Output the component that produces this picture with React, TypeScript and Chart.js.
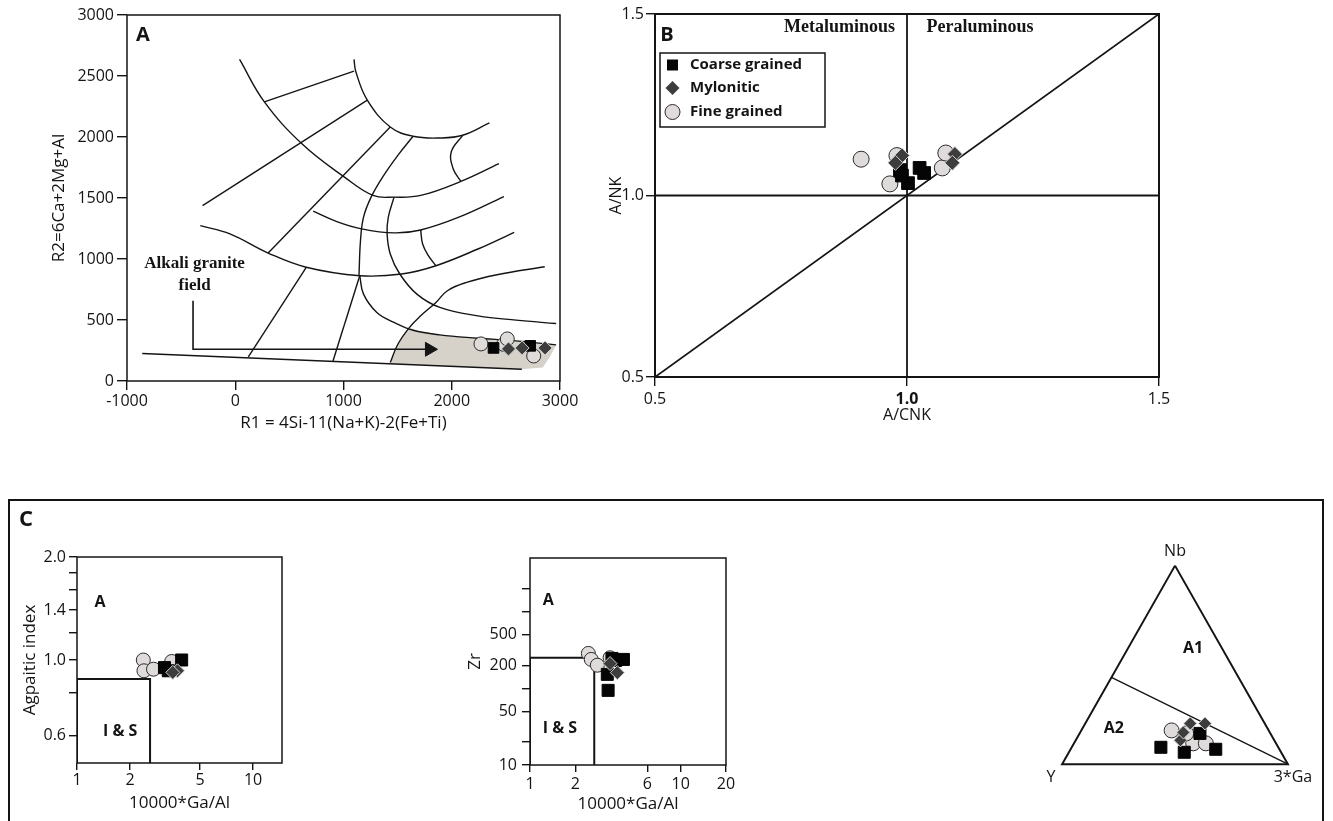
import React, { useEffect, useRef } from "react";
import { Chart, registerables } from "chart.js";

Chart.register(...registerables);

const SANS = "'Open Sans', 'DejaVu Sans', Arial, sans-serif";
const SERIF = "'Liberation Serif', 'DejaVu Serif', 'Times New Roman', serif";
const INK = "#141414";

// ================= Panel A : R1 - R2 diagram =================
const aXTicks = [-1000, 0, 1000, 2000, 3000];
const aYTicks = [0, 500, 1000, 1500, 2000, 2500, 3000];
const aFineR1 = [2270, 2480, 2513, 2757];
const aFineR2 = [304, 300, 345, 205];
const aCoarseR1 = [2386, 2725];
const aCoarseR2 = [271, 288];
const aMyloR1 = [2524, 2650, 2862];
const aMyloR2 = [263, 271, 271];

// field boundaries, [R1, R2] pairs
const aArcOuter = [[40, 2636], [269, 2288], [621, 1940], [1009, 1671], [1273, 1521], [1467, 1507], [1713, 1521], [2084, 1636], [2436, 1781]];
const aArcUpper = [[1097, 2636], [1114, 2535], [1220, 2302], [1432, 2082], [1643, 2006], [1890, 1992], [2101, 2014], [2348, 2115]];
const aTopBar = [[269, 2288], [1097, 2540]];
const aDiag = [[-302, 1438], [1220, 2302]];
const aLoop1 = [[2101, 2014], [1995, 1877], [2013, 1740], [2084, 1636]];
const aArcMid = [[-323, 1274], [-49, 1206], [304, 1049], [656, 932], [1150, 863], [1537, 877], [1854, 945], [2242, 1082], [2577, 1219]];
const aArcInner = [[720, 1392], [938, 1307], [1167, 1247], [1467, 1214], [1713, 1238], [2066, 1343], [2482, 1512]];
const aLoop2 = [[1713, 1238], [1731, 1123], [1784, 1027], [1854, 945]];
const aSpoke1 = [[1432, 2082], [304, 1049]];
const aSpoke2 = [[656, 932], [121, 197]];
const aSpoke3 = [[1643, 2006], [1502, 1850], [1361, 1671], [1255, 1507], [1185, 1343], [1157, 1151], [1143, 863]];
const aSpoke4 = [[1150, 863], [903, 164]];
const aBend1 = [[1467, 1507], [1414, 1343], [1403, 1206], [1432, 1041], [1520, 877], [1678, 712], [1890, 603], [2242, 534], [2594, 499], [2964, 471]];
const aBend2 = [[1150, 863], [1185, 712], [1308, 562], [1467, 480], [1643, 416], [1890, 378], [2242, 351], [2594, 329], [2964, 296]];
const aBend3 = [[2859, 937], [2418, 871], [2136, 808], [1960, 740], [1854, 644], [1713, 534], [1608, 438], [1502, 301], [1432, 151]];
const aBase = [[-859, 225], [2647, 96]];
const aArrow = [[-390, 658], [-390, 260], [1790, 260]];
const aArrowHead = [[1794, 260]];
const aAlkaliField = [[1432, 142], [1502, 301], [1608, 438], [1713, 403], [1890, 378], [2242, 351], [2594, 329], [2964, 296], [2912, 206], [2841, 110], [2647, 96], [1432, 142]];

// ================= Panel B : A/CNK - A/NK =================
const bTicks = [0.5, 1.0, 1.5];
const bFineACNK = [0.909, 0.966, 0.98, 1.07, 1.077];
const bFineANK = [1.10, 1.032, 1.11, 1.076, 1.117];
const bCoarseACNK = [0.986, 1.002, 1.025, 1.034, 0.99];
const bCoarseANK = [1.07, 1.034, 1.076, 1.062, 1.055];
const bMyloACNK = [0.99, 0.977, 1.095, 1.09];
const bMyloANK = [1.11, 1.09, 1.114, 1.09];
const bVertical = [[1, 0.5], [1, 1.5]];
const bHorizontal = [[0.5, 1], [1.5, 1]];
const bDiagonal = [[0.5, 0.5], [1.5, 1.5]];
const seriesNames = ["Coarse grained", "Mylonitic", "Fine grained"];

// ================= Panel C1 : Ga/Al - Agpaitic index =================
const c1XTicks = [1, 2, 5, 10];
const c1YTicks = [0.6, 0.8, 1.0, 1.2, 1.4, 1.6, 1.8, 2.0];
const c1YLabels = [0.6, 1.0, 1.4, 2.0];
const c1FineGa = [2.38, 2.4, 2.72, 3.45];
const c1FineAI = [1.0, 0.93, 0.94, 0.99];
const c1CoarseGa = [3.14, 3.93, 3.3];
const c1CoarseAI = [0.95, 1.0, 0.93];
const c1MyloGa = [3.72, 3.5];
const c1MyloAI = [0.93, 0.92];
const c1ISBox = [[1, 0.5], [1, 0.88], [2.6, 0.88], [2.6, 0.5]];

// ================= Panel C2 : Ga/Al - Zr =================
const c2XTicks = [1, 2, 6, 10, 20];
const c2YTicks = [10, 20, 50, 100, 200, 500, 1000, 2000];
const c2YLabels = [10, 50, 200, 500];
const c2FineGa = [2.44, 2.55, 2.8, 3.4];
const c2FineZr = [285, 238, 200, 250];
const c2CoarseGa = [3.5, 4.17, 3.26, 3.3, 3.7];
const c2CoarseZr = [245, 238, 152, 94, 230];
const c2MyloGa = [3.8, 3.4];
const c2MyloZr = [160, 210];
const c2ISBox = [[1, 10], [1, 250], [2.67, 250], [2.67, 10]];

// ================= Panel C3 : Nb - Y - 3*Ga ternary =================
const tFineNb = [0.17, 0.105, 0.105, 0.155];
const tFineY = [0.43, 0.367, 0.311, 0.373];
const tFineGa = [0.4, 0.528, 0.584, 0.472];
const tCoarseNb = [0.085, 0.06, 0.075, 0.155];
const tCoarseY = [0.52, 0.429, 0.282, 0.312];
const tCoarseGa = [0.395, 0.511, 0.643, 0.533];
const tMyloNb = [0.12, 0.205, 0.205, 0.16];
const tMyloY = [0.416, 0.33, 0.265, 0.383];
const tMyloGa = [0.464, 0.465, 0.53, 0.457];
const tOutline = [[1, 0, 0], [0, 1, 0], [0, 0, 1], [1, 0, 0]]; // [Nb, Y, Ga]
const tDivider = [[0.437, 0.563, 0], [0, 0, 1]];

// ================= helpers =================
type P = { x: number; y: number };
const zip = (xs: number[], ys: number[]): P[] => xs.map((x, i) => ({ x, y: ys[i] }));
const pairs = (a: number[][]): P[] => a.map(([x, y]) => ({ x, y }));
const SQ3 = Math.sqrt(3) / 2;
const tern = (nb: number, y: number, ga: number): P => {
  const s = nb + y + ga;
  return { x: (ga + nb / 2) / s, y: (nb * SQ3) / s };
};
const ternSeries = (nb: number[], y: number[], ga: number[]): P[] => nb.map((v, i) => tern(v, y[i], ga[i]));

const FINE_FILL = "#dfdbdb";
const fine = (data: P[], r: number) => ({ label: seriesNames[2], data, pointStyle: "circle", pointRadius: r, pointHoverRadius: r, backgroundColor: FINE_FILL, borderColor: "#2b2b2b", borderWidth: 1, order: 3 });
const coarse = (data: P[], r: number) => ({ label: seriesNames[0], data, pointStyle: "rect", pointRadius: r, pointHoverRadius: r, backgroundColor: "#050505", borderColor: "#050505", borderWidth: 1, order: 2 });
const mylo = (data: P[], r: number) => ({ label: seriesNames[1], data, pointStyle: "rectRot", pointRadius: r, pointHoverRadius: r, backgroundColor: "#3d3d3d", borderColor: "#cfcfcf", borderWidth: 1, order: 1 });
const line = (data: P[], extra: any = {}) => ({ data, showLine: true, pointRadius: 0, pointHoverRadius: 0, borderColor: INK, borderWidth: 1.4, backgroundColor: "transparent", fill: false, tension: 0, order: 10, ...extra });

type Lbl = { text: string; x: number; y: number; font: string; abs?: boolean; dx?: number; dy?: number; align?: CanvasTextAlign };
const labelPlugin = (items: Lbl[]) => ({
  id: "labels",
  afterDatasetsDraw(chart: any) {
    const { ctx, scales } = chart;
    ctx.save();
    ctx.fillStyle = INK;
    ctx.textBaseline = "middle";
    for (const l of items) {
      let px = l.x;
      let py = l.y;
      if (!l.abs) {
        px = scales.x.getPixelForValue(l.x);
        py = scales.y.getPixelForValue(l.y);
      }
      ctx.font = l.font;
      ctx.textAlign = l.align || "center";
      ctx.fillText(l.text, px + (l.dx || 0), py + (l.dy || 0));
    }
    ctx.restore();
  },
});

const framePlugin = (lw: number) => ({
  id: "frame",
  beforeDatasetsDraw(chart: any) {
    const { ctx, chartArea: a } = chart;
    ctx.save();
    ctx.strokeStyle = INK;
    ctx.lineWidth = lw;
    ctx.strokeRect(a.left, a.top, a.right - a.left, a.bottom - a.top);
    ctx.restore();
  },
});

const legendPlugin = {
  id: "boxLegend",
  afterDatasetsDraw(chart: any) {
    const { ctx, chartArea: a } = chart;
    const left = a.left + 5;
    const top = a.top + 39;
    ctx.save();
    ctx.strokeStyle = INK;
    ctx.lineWidth = 1.5;
    ctx.strokeRect(left, top, 165, 74);
    const rows = [12, 35, 59];
    seriesNames.forEach((name, i) => {
      const cx = left + 12.5;
      const cy = top + rows[i];
      ctx.beginPath();
      if (i === 0) {
        ctx.fillStyle = "#050505";
        ctx.rect(cx - 5.5, cy - 5.5, 11, 11);
        ctx.fill();
      } else if (i === 1) {
        ctx.fillStyle = "#3d3d3d";
        ctx.moveTo(cx, cy - 7);
        ctx.lineTo(cx + 7, cy);
        ctx.lineTo(cx, cy + 7);
        ctx.lineTo(cx - 7, cy);
        ctx.closePath();
        ctx.fill();
      } else {
        ctx.fillStyle = FINE_FILL;
        ctx.strokeStyle = "#2b2b2b";
        ctx.lineWidth = 1;
        ctx.arc(cx, cy, 7.5, 0, Math.PI * 2);
        ctx.fill();
        ctx.stroke();
      }
      ctx.fillStyle = INK;
      ctx.font = `bold 15px ${SANS}`;
      ctx.textAlign = "left";
      ctx.textBaseline = "middle";
      ctx.fillText(name, left + 30, cy);
    });
    ctx.restore();
  },
};

type AxisOpts = {
  type?: string; min: number; max: number; ticks: number[]; label: (v: number) => string;
  title: string; titleSize: number; titlePad: number; tickSize: number; tickLen: number; tickPad: number;
  fit: number; horizontal: boolean; weight?: (v: number) => string;
};
const axis = (o: AxisOpts) => ({
  type: o.type || "linear",
  min: o.min,
  max: o.max,
  afterBuildTicks: (s: any) => { s.ticks = o.ticks.map((v) => ({ value: v })); },
  afterFit: (s: any) => { if (o.horizontal) s.height = o.fit; else s.width = o.fit; },
  ticks: {
    autoSkip: false, maxRotation: 0, minRotation: 0, padding: o.tickPad, color: INK,
    font: (c: any) => ({ family: SANS, size: o.tickSize, weight: o.weight && c.tick ? o.weight(c.tick.value) : "normal" }),
    callback: (v: any) => o.label(Number(v)),
  },
  grid: { display: true, drawOnChartArea: false, drawTicks: o.tickLen > 0, tickLength: o.tickLen, color: INK, lineWidth: 1.4 },
  border: { display: false },
  title: {
    display: true, text: o.title, color: INK, font: { family: SANS, size: o.titleSize },
    padding: o.horizontal ? { top: 0, bottom: o.titlePad } : { top: o.titlePad, bottom: 0 },
  },
});

const baseOptions = (padding: any, scales: any) => ({
  animation: false, responsive: false, maintainAspectRatio: false, events: [],
  layout: { padding },
  plugins: { legend: { display: false }, tooltip: { enabled: false } },
  scales,
});

const pick = (list: number[], fmt: (v: number) => string) => (v: number) =>
  list.some((t) => Math.abs(t - v) < 1e-9) ? fmt(v) : "";

// ================= chart configs =================
const makeA = () => ({
  type: "scatter",
  data: {
    datasets: [
      line(pairs(aAlkaliField), { fill: "shape", backgroundColor: "#d6d2ca", borderWidth: 0, borderColor: "transparent", order: 20 }),
      line(pairs(aArcOuter), { tension: 0.4 }),
      line(pairs(aArcUpper), { tension: 0.4 }),
      line(pairs(aTopBar)),
      line(pairs(aDiag)),
      line(pairs(aLoop1), { tension: 0.4 }),
      line(pairs(aArcMid), { tension: 0.4 }),
      line(pairs(aArcInner), { tension: 0.4 }),
      line(pairs(aLoop2), { tension: 0.4 }),
      line(pairs(aSpoke1)),
      line(pairs(aSpoke2)),
      line(pairs(aSpoke3), { tension: 0.4 }),
      line(pairs(aSpoke4)),
      line(pairs(aBend1), { tension: 0.4 }),
      line(pairs(aBend2), { tension: 0.4 }),
      line(pairs(aBend3), { tension: 0.4 }),
      line(pairs(aBase)),
      line(pairs(aArrow), { borderWidth: 1.6 }),
      { data: pairs(aArrowHead), pointStyle: "triangle", pointRotation: 90, pointRadius: 8, pointHoverRadius: 8, backgroundColor: INK, borderColor: INK, borderWidth: 1, order: 9 },
      fine(zip(aFineR1, aFineR2), 7),
      coarse(zip(aCoarseR1, aCoarseR2), 7.5),
      mylo(zip(aMyloR1, aMyloR2), 7),
    ],
  },
  options: baseOptions({ top: 15, right: 40, left: 0, bottom: 0 }, {
    x: axis({ min: -1000, max: 3000, ticks: aXTicks, label: (v) => String(v), title: "R1 = 4Si-11(Na+K)-2(Fe+Ti)", titleSize: 17, titlePad: 7, tickSize: 16, tickLen: 9, tickPad: 2, fit: 59, horizontal: true }),
    y: axis({ min: 0, max: 3000, ticks: aYTicks, label: (v) => String(v), title: "R2=6Ca+2Mg+Al", titleSize: 17, titlePad: 49, tickSize: 16, tickLen: 10, tickPad: 3, fit: 127, horizontal: false }),
  }),
  plugins: [
    framePlugin(1.5),
    labelPlugin([
      { text: "A", x: 143, y: 35, abs: true, font: `bold 20px ${SANS}` },
      { text: "Alkali granite", x: -376, y: 966, font: `bold 17px ${SERIF}` },
      { text: "field", x: -376, y: 784, font: `bold 17px ${SERIF}` },
    ]),
  ],
});

const makeB = () => ({
  type: "scatter",
  data: {
    datasets: [
      line(pairs(bVertical), { borderWidth: 1.8 }),
      line(pairs(bHorizontal), { borderWidth: 1.8 }),
      line(pairs(bDiagonal), { borderWidth: 1.8 }),
      fine(zip(bFineACNK, bFineANK), 8),
      coarse(zip(bCoarseACNK, bCoarseANK), 9),
      mylo(zip(bMyloACNK, bMyloANK), 7.5),
    ],
  },
  options: baseOptions({ top: 14, right: 41, left: 0, bottom: 0 }, {
    x: axis({ min: 0.5, max: 1.5, ticks: bTicks, label: (v) => v.toFixed(1), title: "A/CNK", titleSize: 16, titlePad: 15, tickSize: 16, tickLen: 9, tickPad: 4, fit: 63, horizontal: true, weight: (v) => (Math.abs(v - 1) < 1e-9 ? "bold" : "normal") }),
    y: axis({ min: 0.5, max: 1.5, ticks: bTicks, label: (v) => v.toFixed(1), title: "A/NK", titleSize: 16, titlePad: 7, tickSize: 16, tickLen: 9, tickPad: 2, fit: 55, horizontal: false }),
  }),
  plugins: [
    framePlugin(2),
    legendPlugin,
    labelPlugin([
      { text: "B", x: 67, y: 35, abs: true, font: `bold 20px ${SANS}` },
      { text: "Metaluminous", x: 0.866, y: 1.464, font: `bold 18px ${SERIF}` },
      { text: "Peraluminous", x: 1.145, y: 1.464, font: `bold 18px ${SERIF}` },
    ]),
  ],
});

const makeC1 = () => ({
  type: "scatter",
  data: {
    datasets: [
      line(pairs(c1ISBox), { borderWidth: 2 }),
      fine(zip(c1FineGa, c1FineAI), 7),
      coarse(zip(c1CoarseGa, c1CoarseAI), 8.5),
      mylo(zip(c1MyloGa, c1MyloAI), 7),
    ],
  },
  options: baseOptions({ top: 55, right: 28, left: 0, bottom: 0 }, {
    x: axis({ type: "logarithmic", min: 1, max: 14.6, ticks: c1XTicks, label: (v) => String(v), title: "10000*Ga/Al", titleSize: 17, titlePad: 8, tickSize: 16, tickLen: 7, tickPad: 1, fit: 58, horizontal: true }),
    y: axis({ type: "logarithmic", min: 0.5, max: 2.0, ticks: c1YTicks, label: pick(c1YLabels, (v) => v.toFixed(1)), title: "Agpaitic index", titleSize: 17, titlePad: 10, tickSize: 16, tickLen: 8, tickPad: 3, fit: 67, horizontal: false }),
  }),
  plugins: [
    framePlugin(1.5),
    labelPlugin([
      { text: "C", x: 16, y: 18, abs: true, font: `bold 22px ${SANS}` },
      { text: "A", x: 1.35, y: 1.47, font: `bold 16px ${SANS}` },
      { text: "I & S", x: 1.76, y: 0.62, font: `bold 16px ${SANS}` },
    ]),
  ],
});

const makeC2 = () => ({
  type: "scatter",
  data: {
    datasets: [
      line(pairs(c2ISBox), { borderWidth: 2 }),
      fine(zip(c2FineGa, c2FineZr), 7),
      coarse(zip(c2CoarseGa, c2CoarseZr), 8.5),
      mylo(zip(c2MyloGa, c2MyloZr), 7),
    ],
  },
  options: baseOptions({ top: 56, right: 34, left: 0, bottom: 0 }, {
    x: axis({ type: "logarithmic", min: 1, max: 20, ticks: c2XTicks, label: (v) => String(v), title: "10000*Ga/Al", titleSize: 17, titlePad: 7, tickSize: 16, tickLen: 7, tickPad: 3, fit: 56, horizontal: true }),
    y: axis({ type: "logarithmic", min: 10, max: 5000, ticks: c2YTicks, label: pick(c2YLabels, (v) => String(v)), title: "Zr", titleSize: 17, titlePad: 5, tickSize: 16, tickLen: 8, tickPad: 5, fit: 70, horizontal: false }),
  }),
  plugins: [
    framePlugin(1.5),
    labelPlugin([
      { text: "A", x: 1.32, y: 1380, font: `bold 16px ${SANS}` },
      { text: "I & S", x: 1.58, y: 30, font: `bold 16px ${SANS}` },
    ]),
  ],
});

const makeC3 = () => {
  const nb = tern(1, 0, 0);
  const yv = tern(0, 1, 0);
  const ga = tern(0, 0, 1);
  const a1 = tern(0.585, 0.1275, 0.2875);
  const a2 = tern(0.18, 0.681, 0.139);
  return {
    type: "scatter",
    data: {
      datasets: [
        line(tOutline.map(([a, b, c]) => tern(a, b, c)), { borderWidth: 2 }),
        line(tDivider.map(([a, b, c]) => tern(a, b, c)), { borderWidth: 1.3 }),
        fine(ternSeries(tFineNb, tFineY, tFineGa), 7.5),
        coarse(ternSeries(tCoarseNb, tCoarseY, tCoarseGa), 8.5),
        mylo(ternSeries(tMyloNb, tMyloY, tMyloGa), 6.5),
      ],
    },
    options: baseOptions({ top: 7.6, right: 4.9, left: 7.9, bottom: 12.9 }, {
      x: { type: "linear", min: -0.1, max: 1.1, display: false },
      y: { type: "linear", min: -0.1, max: 0.98, display: false },
    }),
    plugins: [
      labelPlugin([
        { text: "Nb", x: nb.x, y: nb.y, dy: -14, font: `16px ${SANS}` },
        { text: "Y", x: yv.x, y: yv.y, dx: -11, dy: 13, font: `16px ${SANS}` },
        { text: "3*Ga", x: ga.x, y: ga.y, dx: 5, dy: 13, font: `16px ${SANS}` },
        { text: "A1", x: a1.x, y: a1.y, font: `bold 16px ${SANS}` },
        { text: "A2", x: a2.x, y: a2.y, font: `bold 16px ${SANS}` },
      ]),
    ],
  };
};

function ChartCanvas({ make, left, top, width, height }: { make: () => any; left: number; top: number; width: number; height: number }) {
  const ref = useRef<HTMLCanvasElement>(null);
  useEffect(() => {
    const chart = new Chart(ref.current as HTMLCanvasElement, make());
    return () => chart.destroy();
  }, []);
  return <canvas ref={ref} width={width} height={height} style={{ position: "absolute", left, top, width, height }} />;
}

export default function App() {
  return (
    <div style={{ position: "absolute", left: 0, top: 0, width: 1333, height: 821, overflow: "hidden", background: "#ffffff", fontFamily: SANS }}>
      <div style={{ position: "absolute", left: 8, top: 499, width: 1316, height: 340, border: `2px solid ${INK}`, boxSizing: "border-box" }} />
      <ChartCanvas make={makeA} left={0} top={0} width={600} height={440} />
      <ChartCanvas make={makeB} left={600} top={0} width={600} height={440} />
      <ChartCanvas make={makeC1} left={10} top={502} width={300} height={319} />
      <ChartCanvas make={makeC2} left={460} top={502} width={300} height={319} />
      <ChartCanvas make={makeC3} left={1030} top={530} width={290} height={270} />
    </div>
  );
}
